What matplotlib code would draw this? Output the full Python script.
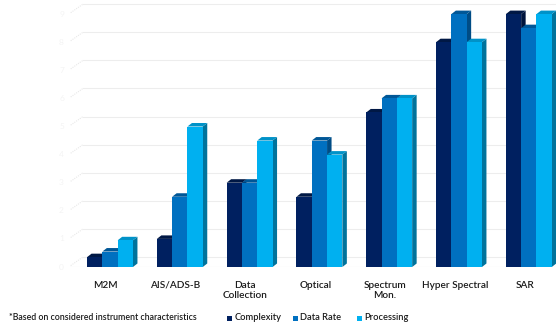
import matplotlib
matplotlib.use("Agg")
import matplotlib.pyplot as plt
from matplotlib.patches import Polygon, Rectangle
import numpy as np

categories = ["M2M", "AIS/ADS-B", "Data\nCollection", "Optical", "Spectrum\nMon.", "Hyper Spectral", "SAR"]
series_names = ["Complexity", "Data Rate", "Processing"]
complexity = [0.35, 1.0, 3.0, 2.5, 5.5, 8.0, 9.0]
data_rate = [0.55, 2.5, 3.0, 4.5, 6.0, 9.0, 8.5]
processing = [0.95, 5.0, 4.5, 4.0, 6.0, 8.0, 9.0]
y_ticks = list(range(0, 10))
footnote = "*Based on considered instrument characteristics"

front_colors = ["#002060", "#0070C0", "#00B0F0"]
top_colors = ["#001845", "#005797", "#0092C8"]
side_colors = ["#00143d", "#004c85", "#00739c"]

W, H = 556, 324
fig = plt.figure(figsize=(W / 100, H / 100), dpi=100)
fig.patch.set_facecolor("white")

ax_left_px, ax_base_px = 70, 267
ax = fig.add_axes([ax_left_px / W, (H - ax_base_px) / H, (W - ax_left_px) / W, ax_base_px / H])
unit_px = 28.1
x_spacing = 69.8
ymax = ax_base_px / unit_px
xmin = -(110 - ax_left_px) / x_spacing
xmax = xmin + (W - ax_left_px) / x_spacing
ax.set_xlim(xmin, xmax)
ax.set_ylim(0, ymax)
for s in ax.spines.values():
    s.set_visible(False)
ax.set_xticks([])
ax.set_yticks([])

# back wall gridlines (perspective offset)
wall_dx = 13 / x_spacing
wall_dy = 10 / unit_px
for k in y_ticks:
    ax.plot([xmin + wall_dx, xmax], [k + wall_dy, k + wall_dy], color="#ededed", lw=0.8, zorder=1)
    ax.plot([xmin + 0.01, xmin + wall_dx], [k + 0.05, k + wall_dy], color="#e8e8e8", lw=0.8,
            ls=(0, (1, 1)), zorder=1)
    ax.text(xmin - 6 / x_spacing, k, str(k), ha="right", va="center", fontsize=6,
            color="#f4f4f4", family="Lato", clip_on=False)
ax.plot([xmin, xmax], [0.0, 0.0], color="#e8e8e8", lw=0.8, zorder=1)

bar_w = 15.3 / x_spacing
ddx = 4.5 / x_spacing
ddy = 3.5 / unit_px
series = [complexity, data_rate, processing]
x = np.arange(len(categories))
for si, vals in enumerate(series):
    for xi, v in zip(x, vals):
        x0 = xi + (si - 1) * bar_w - bar_w / 2
        x1 = x0 + bar_w
        ax.add_patch(Polygon([(x1, 0), (x1 + ddx, ddy), (x1 + ddx, v + ddy), (x1, v)],
                             closed=True, fc=side_colors[si], ec="none", zorder=3 + si))
        ax.add_patch(Polygon([(x0, v), (x0 + ddx, v + ddy), (x1 + ddx, v + ddy), (x1, v)],
                             closed=True, fc=top_colors[si], ec="none", zorder=3 + si))
        ax.add_patch(Rectangle((x0, 0), bar_w, v, fc=front_colors[si], ec="none", zorder=3 + si))

# category labels
for xi, lab in zip(x, categories):
    ax.text(xi - 0.06, -14 / unit_px, lab, ha="center", va="top", fontsize=7.2,
            color="#1a1a1a", family="Lato", fontweight="semibold", linespacing=1.2, clip_on=False)

# footnote
fig.text(9 / W, 1 - 317 / H, footnote, ha="left", va="center", fontsize=6.3,
         color="#1a1a1a", family="Lato", fontweight="semibold")

# legend
leg_x = [227, 293, 357]
for lx, name, c in zip(leg_x, series_names, front_colors):
    fig.patches.append(Rectangle((lx / W, 1 - 321 / H), 5 / W, 5 / H, transform=fig.transFigure,
                                 fc=c, ec="none"))
    fig.text((lx + 7.5) / W, 1 - 318 / H, name, ha="left", va="center", fontsize=6.7,
             color="#1a1a1a", family="Lato", fontweight="semibold")

fig.savefig("out.png", dpi=100, facecolor="white")
